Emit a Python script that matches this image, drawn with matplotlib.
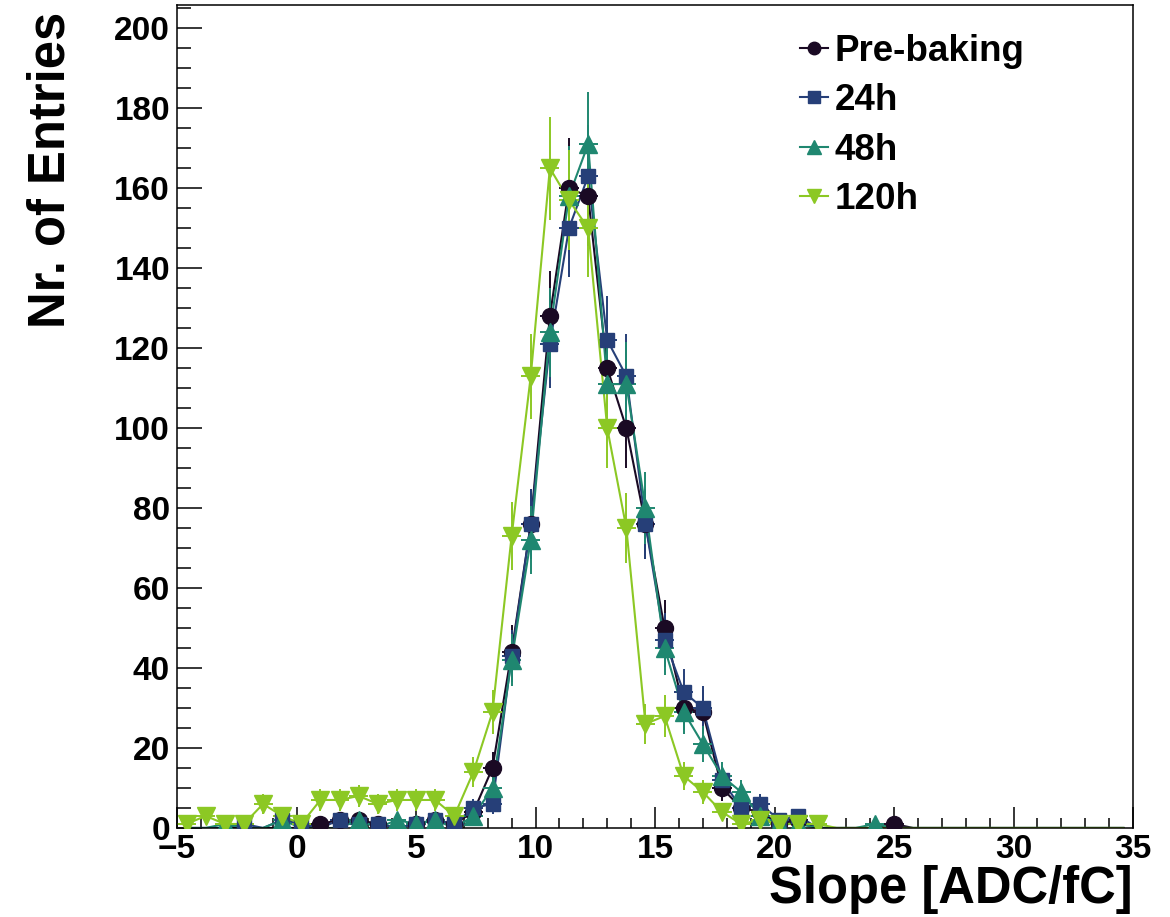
import numpy as np
import matplotlib
matplotlib.use("Agg")
import matplotlib.pyplot as plt
from matplotlib.ticker import MultipleLocator

# 50 bins of width 0.8 between -5 and 35
bin_lo, bin_hi, n_bins = -5.0, 35.0, 50

pre_baking = [0, 0, 0, 0, 0, 0, 0, 1, 2, 2, 1, 0, 1, 2, 1, 4, 15, 44, 76, 128,
              160, 158, 115, 100, 76, 50, 30, 29, 10, 5, 4, 1, 2, 0, 0, 0, 0, 1, 0, 0,
              0, 0, 0, 0, 0, 0, 0, 0, 0, 0]
h24 = [0, 0, 0, 1, 0, 2, 1, 0, 2, 1, 1, 0, 1, 2, 1, 5, 6, 43, 76, 121,
       150, 163, 122, 113, 76, 47, 34, 30, 12, 5, 6, 2, 3, 0, 0, 0, 0, 0, 0, 0,
       0, 0, 0, 0, 0, 0, 0, 0, 0, 0]
h48 = [0, 0, 1, 0, 0, 2, 0, 0, 0, 2, 0, 2, 1, 2, 0, 3, 10, 42, 72, 124,
       158, 171, 111, 111, 80, 45, 29, 21, 13, 9, 3, 1, 1, 0, 0, 0, 1, 0, 0, 0,
       0, 0, 0, 0, 0, 0, 0, 0, 0, 0]
h120 = [1, 3, 1, 1, 6, 3, 1, 7, 7, 8, 6, 7, 7, 7, 3, 14, 29, 73, 113, 165,
        157, 150, 100, 75, 26, 28, 13, 9, 4, 1, 2, 1, 1, 1, 0, 0, 0, 0, 0, 0,
        0, 0, 0, 0, 0, 0, 0, 0, 0, 0]

labels = ["Pre-baking", "24h", "48h", "120h"]
colors = ["#1a0a24", "#263f78", "#1f8770", "#8cc824"]
markers = ["o", "s", "^", "v"]
msizes = [11.5, 10.5, 12.5, 12.5]

width = (bin_hi - bin_lo) / n_bins
centers = bin_lo + width * (np.arange(n_bins) + 0.5)

plt.rcParams["font.family"] = ["Liberation Sans", "DejaVu Sans"]
plt.rcParams["font.weight"] = "bold"

fig = plt.figure(figsize=(11.7, 9.17), dpi=100)
ax = fig.add_axes([0.1513, 0.0971, 0.8171, 0.8974])

series = [pre_baking, h24, h48, h120]
handles = []
for vals, lab, col, mk, ms in zip(series, labels, colors, markers, msizes):
    y = np.asarray(vals, dtype=float)
    filled = y > 0
    # the line runs through every bin, markers and errors only where filled
    ax.plot(centers, y, color=col, lw=1.5, zorder=2)
    ax.errorbar(centers[filled], y[filled], xerr=width / 2,
                yerr=np.sqrt(y[filled]), fmt="none", ecolor=col,
                elinewidth=1.4, capsize=0, zorder=2)
    ax.plot(centers[filled], y[filled], ls="none", marker=mk, ms=ms,
            mec=col, mfc=col, zorder=3)
    h, = ax.plot([], [], color=col, lw=1.5, marker=mk, ms=ms * 0.78,
                 mec=col, mfc=col)
    handles.append(h)

ax.set_xlim(bin_lo, bin_hi)
ax.set_ylim(0, 205.8)
ax.xaxis.set_major_locator(MultipleLocator(5))
ax.xaxis.set_minor_locator(MultipleLocator(1))
ax.yaxis.set_major_locator(MultipleLocator(20))
ax.yaxis.set_minor_locator(MultipleLocator(5))
ax.tick_params(which="both", direction="in", top=False, right=False,
               labelsize=24, width=1.1)
ax.tick_params(axis="x", which="major", length=15, pad=4)
ax.tick_params(axis="x", which="minor", length=7.5)
ax.tick_params(axis="y", which="major", length=18, pad=5)
ax.tick_params(axis="y", which="minor", length=10)
for sp in ax.spines.values():
    sp.set_linewidth(1.1)
for t in ax.get_xticklabels() + ax.get_yticklabels():
    t.set_fontweight("bold")

ax.set_xlabel("Slope [ADC/fC]", fontsize=36.5, fontweight="bold", loc="right",
              labelpad=0)
ax.set_ylabel("Nr. of Entries", fontsize=36.5, fontweight="bold", loc="top",
              labelpad=28)
ax.yaxis.label.set_y(0.992)

leg = fig.legend(handles, labels, loc="upper left",
                 bbox_to_anchor=(800 / 1170, 1 - 34 / 917),
                 bbox_transform=fig.transFigure, frameon=False,
                 borderpad=0, borderaxespad=0, fontsize=26.5,
                 handlelength=0.75, handletextpad=0.2, labelspacing=0.39)
for t in leg.get_texts():
    t.set_fontweight("bold")

fig.savefig("out.png", dpi=100)
